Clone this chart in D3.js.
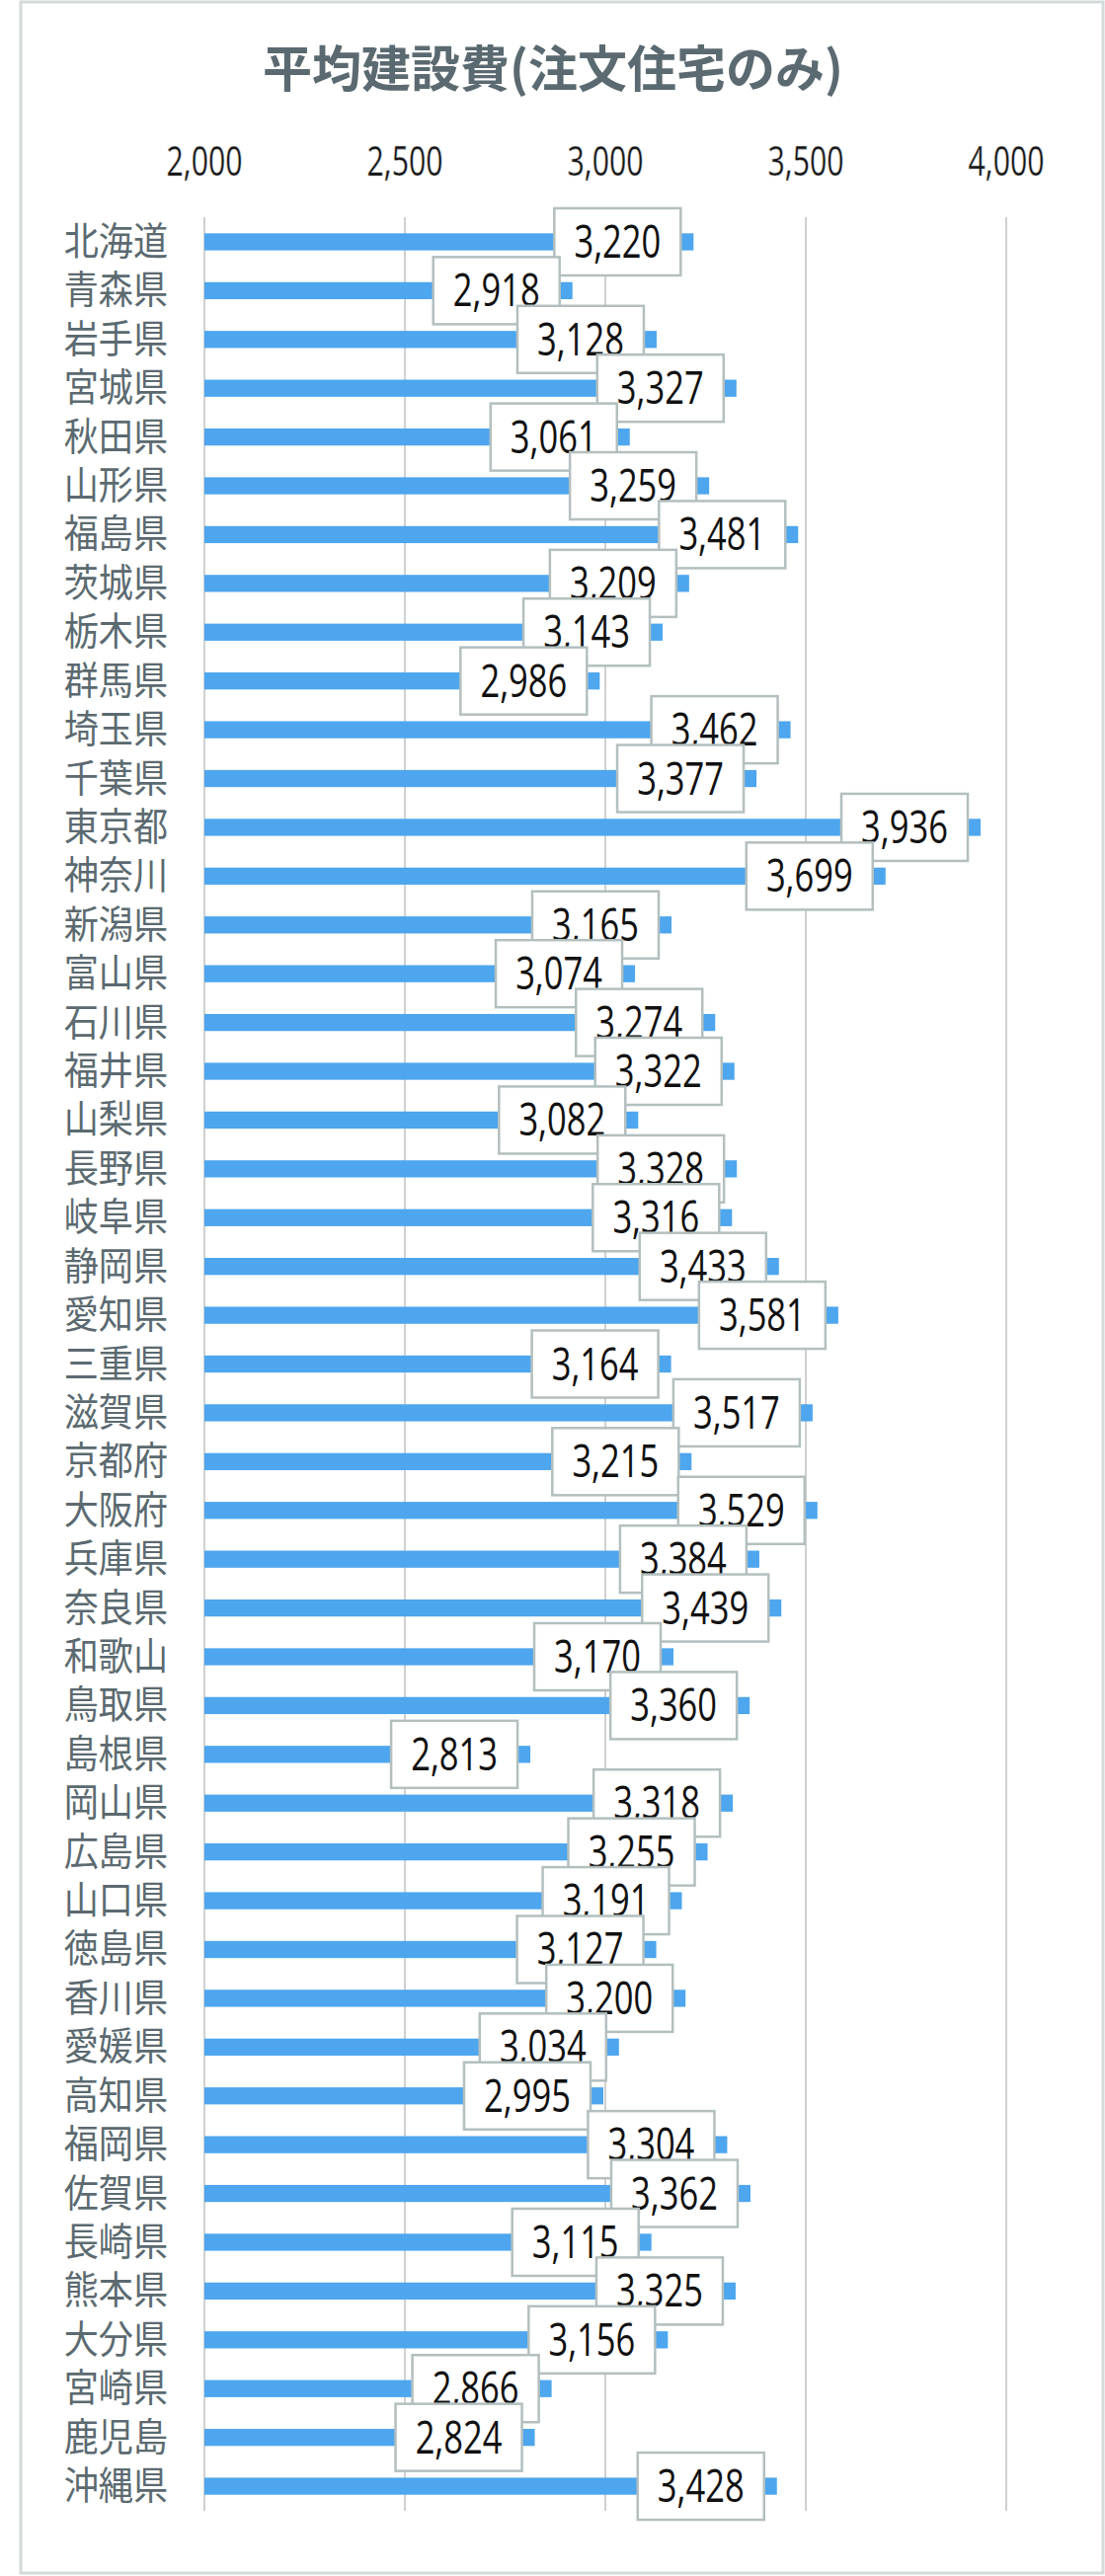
<!DOCTYPE html><html><head><meta charset="utf-8"><script src="https://cdn.jsdelivr.net/npm/d3@7"></script>
<style>body{margin:0;background:#fff}</style></head><body><svg id="c" width="1119" height="2609"></svg><script>
const categories=["北海道","青森県","岩手県","宮城県","秋田県","山形県","福島県","茨城県","栃木県","群馬県","埼玉県","千葉県","東京都","神奈川","新潟県","富山県","石川県","福井県","山梨県","長野県","岐阜県","静岡県","愛知県","三重県","滋賀県","京都府","大阪府","兵庫県","奈良県","和歌山","鳥取県","島根県","岡山県","広島県","山口県","徳島県","香川県","愛媛県","高知県","福岡県","佐賀県","長崎県","熊本県","大分県","宮崎県","鹿児島","沖縄県"];
const values=[3220,2918,3128,3327,3061,3259,3481,3209,3143,2986,3462,3377,3936,3699,3165,3074,3274,3322,3082,3328,3316,3433,3581,3164,3517,3215,3529,3384,3439,3170,3360,2813,3318,3255,3191,3127,3200,3034,2995,3304,3362,3115,3325,3156,2866,2824,3428];
const ticks=[2000,2500,3000,3500,4000];
const svg=d3.select("#c");
const font="'Noto Sans CJK JP','Noto Sans',sans-serif";
const num="'Open Sans',sans-serif";
svg.append("rect").attr("x",21).attr("y",2).attr("width",1096).attr("height",2604).attr("fill","#fff").attr("stroke","#d3dada").attr("stroke-width",3);
svg.append("text").attr("x",560).attr("y",88).attr("text-anchor","middle").attr("font-family",font).attr("font-size",50).attr("font-weight","bold").attr("fill","#5b6a70").text("平均建設費(注文住宅のみ)");
const x=d3.scaleLinear().domain([2000,4000]).range([207,1019]);
const y=d3.scaleBand().domain(categories).range([220,2543]).paddingInner(0.65).paddingOuter(0.33);
const g=svg.append("g");
g.selectAll("line.grid").data(ticks).join("line").attr("x1",d=>x(d)).attr("x2",d=>x(d)).attr("y1",220).attr("y2",2543).attr("stroke","#d0d0d0").attr("stroke-width",2);
g.selectAll("text.tick").data(ticks).join("text").attr("transform",d=>`translate(${x(d)},178) scale(0.72,1)`).attr("text-anchor","middle").attr("font-family",num).attr("font-size",42).attr("fill","#111").attr("stroke","#bbb").attr("stroke-width",0.6).text(d3.format(","));
g.selectAll("text.cat").data(categories).join("text").attr("transform",d=>`translate(170,${y(d)+y.bandwidth()/2+13}) scale(0.9,1)`).attr("text-anchor","end").attr("font-family",font).attr("font-size",39).attr("fill","#5b6a70").text(d=>d);
g.selectAll("rect.bar").data(values).join("rect").attr("x",x(2000)).attr("y",(d,i)=>y(categories[i])).attr("width",d=>x(d)-x(2000)).attr("height",y.bandwidth()).attr("fill","#4da6ee");
const lb=g.selectAll("g.lb").data(values).join("g").attr("transform",(d,i)=>`translate(${x(d)-77},${y(categories[i])+y.bandwidth()/2})`);
lb.append("rect").attr("x",-64).attr("y",-34).attr("width",128).attr("height",68).attr("fill","#fff").attr("stroke","#b3bfbf").attr("stroke-width",2.5);
lb.append("text").attr("transform","translate(0,16) scale(0.75,1)").attr("text-anchor","middle").attr("font-family",num).attr("font-size",46).attr("fill","#111").text(d3.format(","));
</script></body></html>
